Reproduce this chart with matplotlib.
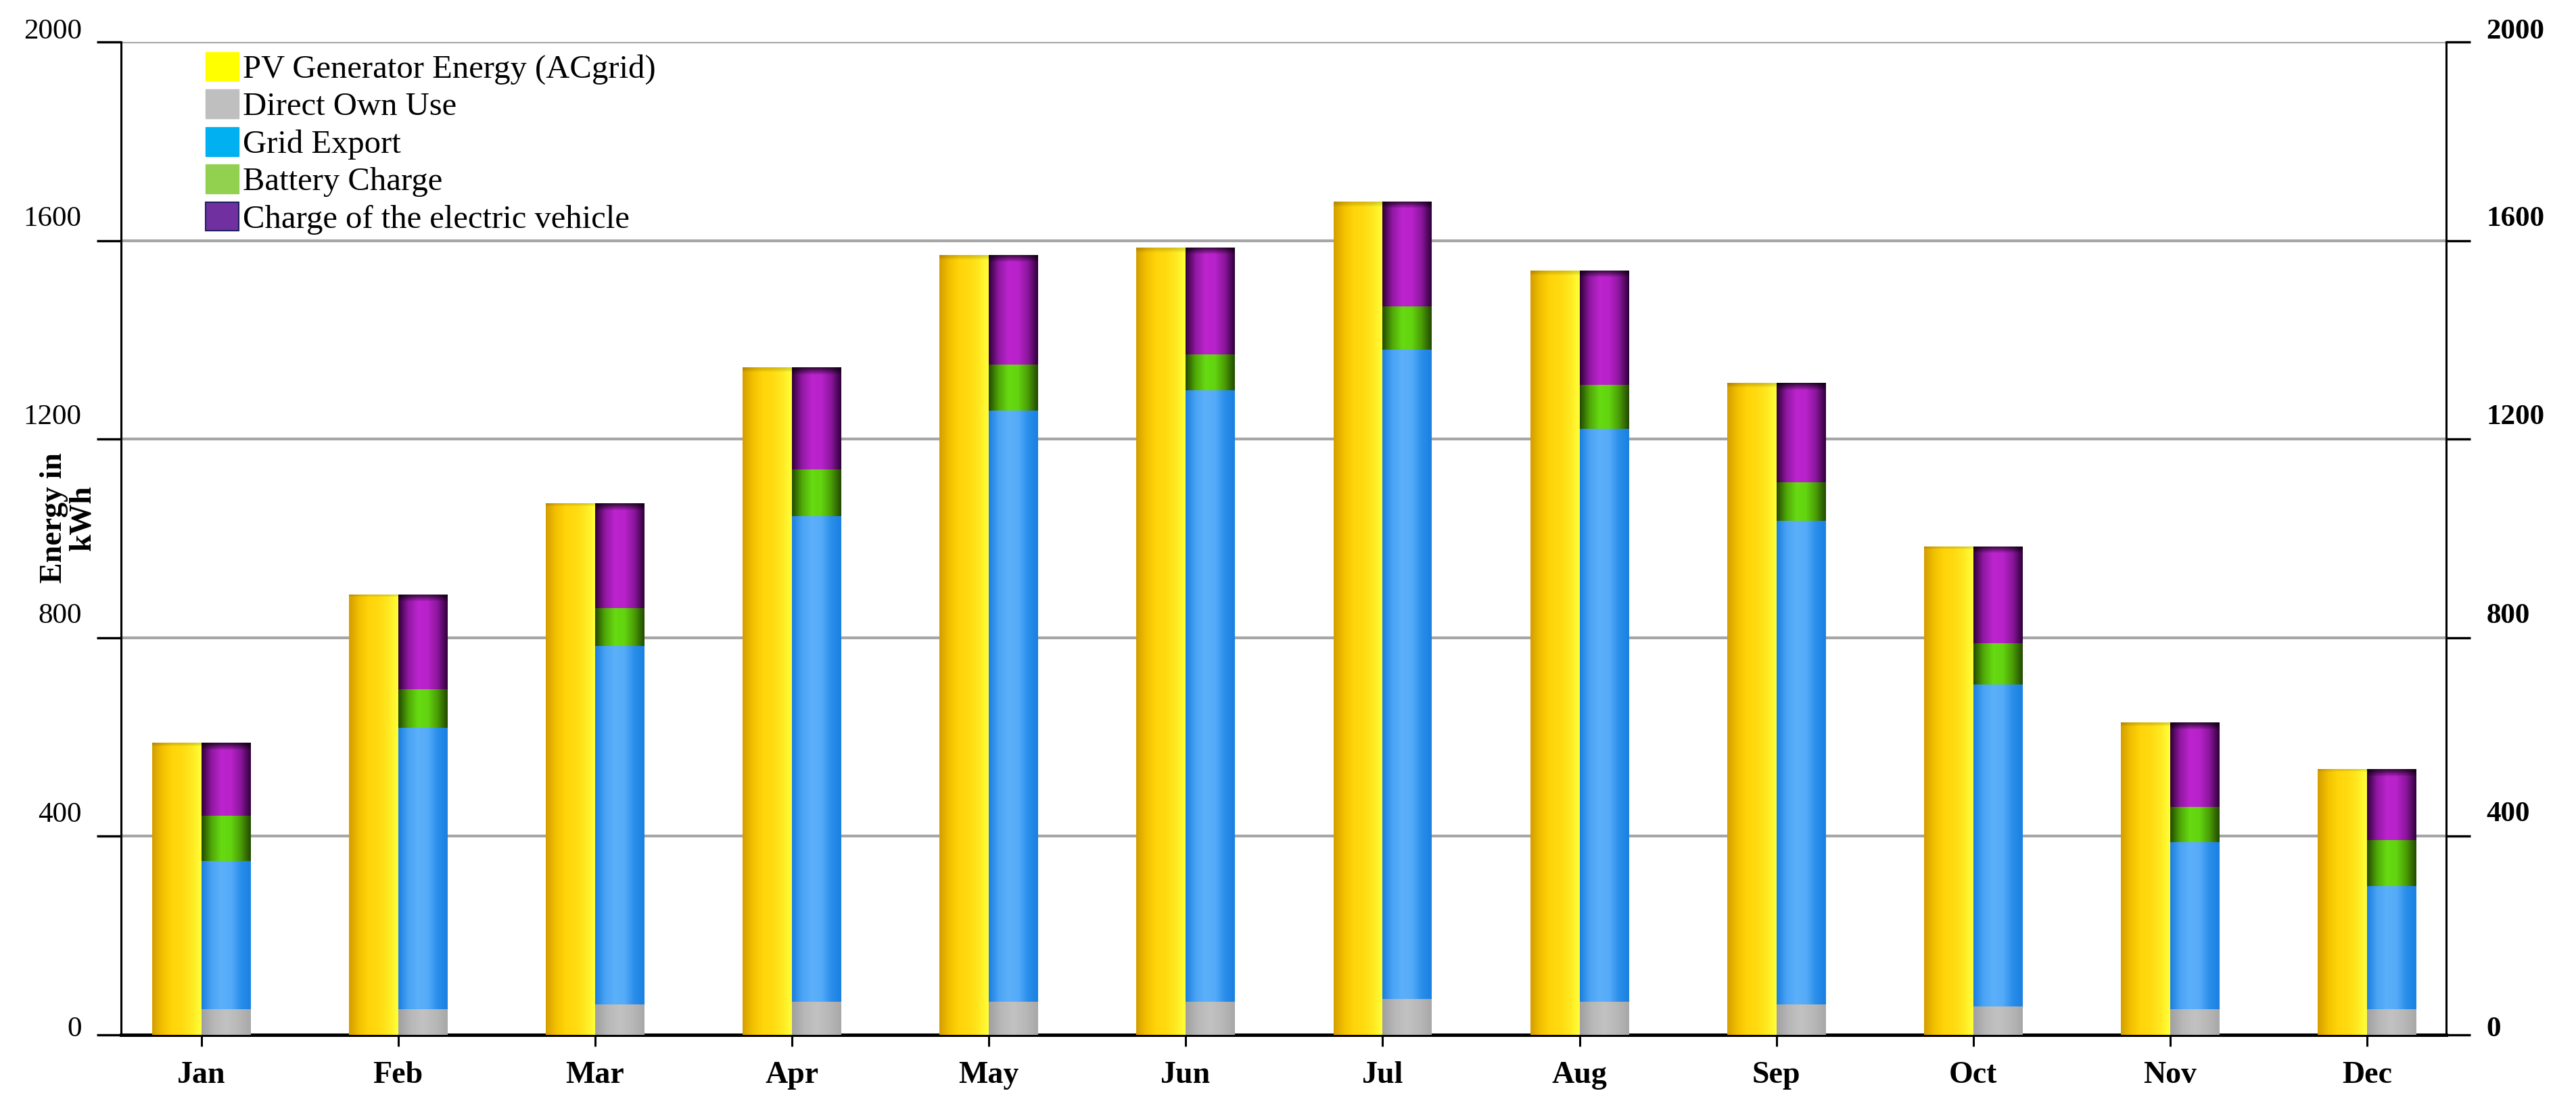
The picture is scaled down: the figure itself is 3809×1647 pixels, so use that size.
import numpy as np
import matplotlib
matplotlib.use("Agg")
import matplotlib.pyplot as plt
import matplotlib.transforms as mtransforms
from matplotlib.colors import LinearSegmentedColormap
from matplotlib.patches import Patch

# Data (kWh per month)
months = ["Jan", "Feb", "Mar", "Apr", "May", "Jun", "Jul", "Aug", "Sep", "Oct", "Nov", "Dec"]
pv_energy = [588, 887, 1071, 1344, 1571, 1586, 1679, 1540, 1313, 984, 629, 536]
direct_use = [52, 52, 62, 67, 67, 67, 72, 67, 62, 57, 52, 52]
grid_export = [298, 566, 721, 978, 1190, 1231, 1308, 1154, 974, 649, 336, 248]
battery_charge = [92, 78, 77, 94, 93, 72, 87, 88, 77, 83, 71, 93]
ev_charge = [146, 191, 211, 205, 221, 216, 212, 231, 200, 195, 170, 143]
yticks = [0, 400, 800, 1200, 1600, 2000]
ytick_labels = ["0", "400", "800", "1200", "1600", "2000"]

plt.rcParams["font.family"] = ["Liberation Serif", "DejaVu Serif"]

fig = plt.figure(figsize=(38.09, 16.47), dpi=100)
ax = fig.add_axes([0.0470, 0.0710, 0.9025, 0.8914])


def shade(bars, stops, top_band=0.0, dark=0.25):
    # horizontal gradient over each bar, optional darker band at the top
    cmap = LinearSegmentedColormap.from_list("", stops)
    row = cmap(np.linspace(0, 1, 128))[:, :3]
    for b in bars:
        x0, y0 = b.get_xy()
        h = b.get_height()
        img = np.repeat(row[None, :, :], 200, axis=0)
        if top_band > 0 and h > 0:
            n = max(1, int(round(200 * top_band / h)))
            fade = np.linspace(dark, 0.9, n)[:, None, None]
            img[:n] = img[:n] * fade
        im = ax.imshow(img, aspect="auto", interpolation="bilinear",
                       extent=[x0, x0 + b.get_width(), y0, y0 + h], zorder=3)
        im.set_clip_path(b)


x = np.arange(len(months))
w = 0.25

pv_bars = ax.bar(x - w / 2, pv_energy, w, color="#FFD700", zorder=2)
b1 = np.array(direct_use)
b2 = b1 + np.array(grid_export)
b3 = b2 + np.array(battery_charge)
own_bars = ax.bar(x + w / 2, direct_use, w, color="#B8B8B8", zorder=2)
grid_bars = ax.bar(x + w / 2, grid_export, w, bottom=b1, color="#55AAF8", zorder=2)
bat_bars = ax.bar(x + w / 2, battery_charge, w, bottom=b2, color="#66DD11", zorder=2)
ev_bars = ax.bar(x + w / 2, ev_charge, w, bottom=b3, color="#BB22CC", zorder=2)

shade(pv_bars, ["#D49E00", "#F2C000", "#FFD50A", "#FFDA10", "#FFE820", "#FFFF3A"],
      top_band=6, dark=0.85)
shade(own_bars, ["#A0A0A0", "#B8B8B8", "#C2C2C2", "#B8B8B8", "#A8A8A8"])
shade(grid_bars, ["#1A7EDF", "#4AA3F4", "#5CB0FA", "#55ABF8", "#2A8EEA", "#1A80E2"])
shade(bat_bars, ["#234A00", "#50A808", "#66DA12", "#62D410", "#4A9C06", "#234A00"])
shade(ev_bars, ["#30003A", "#9018A2", "#BC24CE", "#B822CA", "#8A169C", "#30003A"], top_band=14)

ax.set_xlim(-0.407, 11.40)
ax.set_ylim(0, 2000)
ax.set_axisbelow(True)
ax.yaxis.grid(True, color="#A6A6A6", linewidth=3)

for s in ["top", "right"]:
    ax.spines[s].set_visible(False)
ax.spines["left"].set_linewidth(2.2)
ax.spines["bottom"].set_linewidth(3.6)

ax.set_xticks(x, months, fontsize=33, fontweight="bold")
ax.tick_params(axis="x", direction="out", length=12, width=2.2, pad=16)
ax.set_yticks(yticks, ytick_labels, fontsize=31)
ax.tick_params(axis="y", direction="out", length=26, width=2.5, pad=16)

ax2 = ax.twinx()
ax2.set_ylim(0, 2000)
for s in ["top", "left", "bottom"]:
    ax2.spines[s].set_visible(False)
ax2.spines["right"].set_linewidth(2.2)
ax2.set_yticks(yticks, ytick_labels, fontsize=31, fontweight="bold")
ax2.tick_params(axis="y", direction="out", length=26, width=2.5, pad=17)

# tick labels sit above their gridlines
for lab in ax.get_yticklabels() + ax2.get_yticklabels():
    t = lab.get_text()
    dy = 6 if t == "0" else (11 if t == "2000" else 23)
    lab.set_va("center")
    lab.set_transform(lab.get_transform() +
                      mtransforms.ScaledTranslation(0, dy / 72, fig.dpi_scale_trans))

fig.text(0.0266, 0.535, "Energy in\nkWh", rotation=90, ha="center", va="center",
         fontsize=33, fontweight="bold", linespacing=1.0)

handles = [
    Patch(facecolor="#FFFF00", edgecolor="#FFFF00"),
    Patch(facecolor="#BFBFBF", edgecolor="#BFBFBF"),
    Patch(facecolor="#00B0F0", edgecolor="#00B0F0"),
    Patch(facecolor="#92D050", edgecolor="#92D050"),
    Patch(facecolor="#7030A0", edgecolor="#1F2060", linewidth=1.5),
]
labels = ["PV Generator Energy (ACgrid)", "Direct Own Use", "Grid Export",
          "Battery Charge", "Charge of the electric vehicle"]
fig.legend(handles, labels, loc="upper left", bbox_to_anchor=(0.0798, 0.9535),
           frameon=False, fontsize=35, handlelength=1.0, handleheight=0.98,
           labelspacing=0.15, handletextpad=0.14, borderpad=0, borderaxespad=0)

fig.savefig("out.png", dpi=100)
